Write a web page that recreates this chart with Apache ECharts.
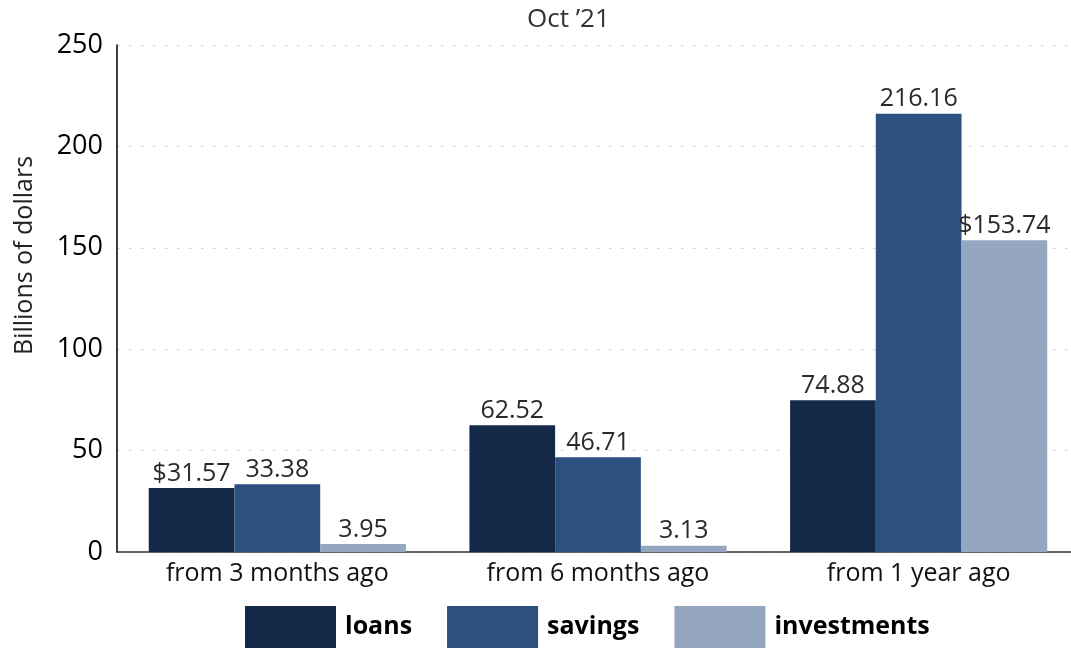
<!DOCTYPE html>
<html lang="en">
<head>
    <meta charset="UTF-8">
    <title>Oct '21</title>
    <style>
        body { margin: 0; overflow: hidden; background: #fff; }
        #chart { width: 1071px; height: 650px; }
    </style>
</head>
<body>
    <div id="chart"></div>
    <script src="https://cdn.jsdelivr.net/npm/echarts@6/dist/echarts.min.js"></script>
    <script>
        // data
        var categories = ['from 3 months ago', 'from 6 months ago', 'from 1 year ago'];
        var seriesNames = ['loans', 'savings', 'investments'];
        var loans = [31.57, 62.52, 74.88];
        var savings = [33.38, 46.71, 216.16];
        var investments = [3.95, 3.13, 153.74];
        // a few labels carry a dollar sign in the original
        var loansPrefix = ['$', '', ''];
        var savingsPrefix = ['', '', ''];
        var investmentsPrefix = ['', '', '$'];
        var yTicks = [0, 50, 100, 150, 200, 250];

        var colors = ['#142848', '#2c5080', '#94a6c0'];
        var fontFam = '"Open Sans", Lato, sans-serif';

        function makeSeries(name, values, prefix, color) {
            return {
                name: name,
                type: 'bar',
                data: values,
                barGap: '0%',
                barCategoryGap: '19.8%',
                itemStyle: { color: color },
                label: {
                    show: true,
                    position: 'top',
                    distance: 2,
                    color: '#2a2a2a',
                    fontSize: 25,
                    fontFamily: fontFam,
                    formatter: function (p) {
                        return prefix[p.dataIndex] + p.value.toFixed(2);
                    }
                }
            };
        }

        var myChart = echarts.init(document.getElementById('chart'));
        var option = {
            animation: false,
            title: {
                text: "Oct \u201921",
                left: 527,
                top: 7,
                padding: 0,
                textStyle: { color: '#333', fontSize: 26, fontWeight: 'normal', fontFamily: fontFam }
            },
            grid: { left: 117, width: 962, top: 45, bottom: 98, outerBoundsMode: 'none' },
            legend: {
                bottom: 2,
                left: 245,
                padding: 0,
                itemWidth: 91,
                itemHeight: 42,
                itemGap: 35,
                icon: 'rect',
                data: seriesNames,
                textStyle: { color: '#000', fontSize: 25, fontWeight: 'bold', fontFamily: fontFam, padding: [0, 0, 0, 4] }
            },
            xAxis: {
                type: 'category',
                data: categories,
                axisLine: { lineStyle: { color: '#333', width: 1.5 } },
                axisTick: { show: false },
                axisLabel: { color: '#111', fontSize: 25, fontFamily: fontFam, margin: 9 }
            },
            yAxis: {
                type: 'value',
                min: yTicks[0],
                max: yTicks[yTicks.length - 1],
                interval: 50,
                name: 'Billions of dollars',
                nameLocation: 'middle',
                nameGap: 80,
                nameTextStyle: { color: '#222', fontSize: 25, fontFamily: fontFam, padding: [0, 0, 0, 86] },
                axisLine: { show: true, lineStyle: { color: '#000', width: 1.5 } },
                axisTick: { show: false },
                axisLabel: { color: '#000', fontSize: 27, fontFamily: fontFam, margin: 14 },
                splitLine: { lineStyle: { color: '#d4d8e2', type: [3, 9] } }
            },
            series: [
                makeSeries(seriesNames[0], loans, loansPrefix, colors[0]),
                makeSeries(seriesNames[1], savings, savingsPrefix, colors[1]),
                makeSeries(seriesNames[2], investments, investmentsPrefix, colors[2])
            ]
        };
        myChart.setOption(option);
    </script>
</body>
</html>
